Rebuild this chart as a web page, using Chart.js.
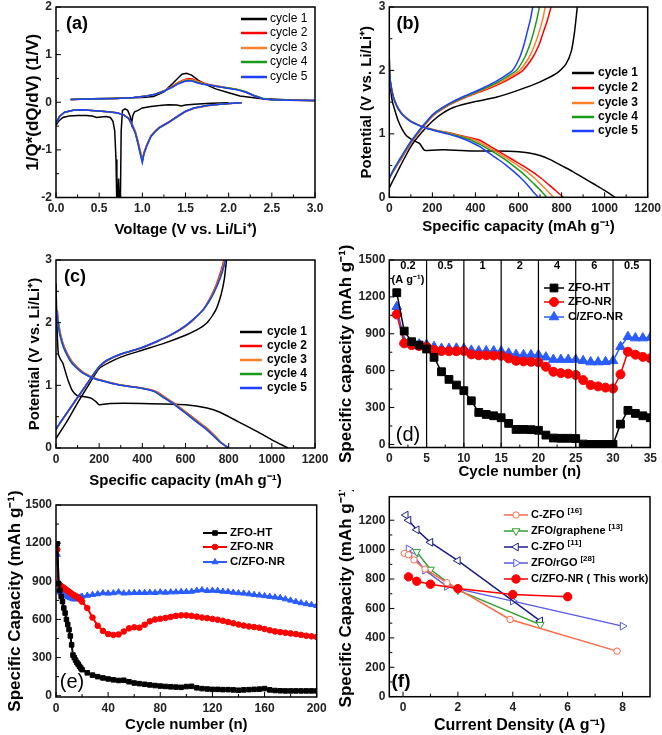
<!DOCTYPE html>
<html>
<head>
<meta charset="utf-8">
<script src="https://cdn.jsdelivr.net/npm/chart.js@4.4.0/dist/chart.umd.min.js"></script>
<style>
body { margin: 0; background: #fff; }
#wrap { position: relative; width: 662px; height: 735px; }
canvas { position: absolute; }
</style>
</head>
<body>
<div id="wrap">
<canvas id="ca" width="331" height="245" style="left:0;top:0"></canvas>
<canvas id="cb" width="331" height="245" style="left:331px;top:0"></canvas>
<canvas id="cc" width="331" height="245" style="left:0;top:245px"></canvas>
<canvas id="cd" width="331" height="245" style="left:331px;top:245px"></canvas>
<canvas id="ce" width="331" height="245" style="left:0;top:490px"></canvas>
<canvas id="cf" width="331" height="245" style="left:331px;top:490px"></canvas>
</div>
<script>
const FONT = "'Liberation Sans', Arial, Helvetica, sans-serif";
const COL5 = ['#000000', '#ff0000', '#ff7f2a', '#1a9a1a', '#1f3fff'];
const CYC = ['cycle 1', 'cycle 2', 'cycle 3', 'cycle 4', 'cycle 5'];

// (a) dQ/dV
const aXTicks = [0, 0.5, 1, 1.5, 2, 2.5, 3];
const aYTicks = [-2, -1, 0, 1, 2];
const aC1DisV = [0.0, 0.03, 0.08, 0.15, 0.25, 0.35, 0.42, 0.47, 0.52, 0.58, 0.63, 0.66, 0.68, 0.695, 0.705, 0.715, 0.725, 0.735, 0.745, 0.755, 0.77, 0.8, 0.83, 0.86, 0.875, 0.89, 0.91, 0.95, 1.0, 1.1, 1.2, 1.3, 1.4, 1.45, 1.5, 1.6, 1.8, 2.0];
const aC1DisY = [-0.48, -0.4, -0.32, -0.29, -0.28, -0.28, -0.29, -0.32, -0.31, -0.3, -0.32, -0.4, -0.6, -1.2, -2.2, -2.2, -1.6, -2.2, -2.2, -0.6, -0.17, -0.14, -0.17, -0.3, -0.45, -0.28, -0.2, -0.17, -0.12, -0.09, -0.07, -0.05, -0.06, -0.08, -0.06, -0.04, -0.02, -0.01];
const aC1ChgV = [0.17, 0.5, 0.8, 1.0, 1.13, 1.25, 1.36, 1.42, 1.46, 1.51, 1.57, 1.65, 1.75, 1.85, 1.98, 2.13, 2.36, 2.67, 3.0];
const aC1ChgY = [0.06, 0.08, 0.09, 0.1, 0.12, 0.22, 0.41, 0.52, 0.59, 0.61, 0.57, 0.46, 0.36, 0.28, 0.21, 0.13, 0.08, 0.05, 0.03];
const aDisV = [0.0, 0.04, 0.1, 0.2, 0.3, 0.45, 0.6, 0.7, 0.78, 0.84, 0.88, 0.92, 0.95, 0.98, 1.0, 1.02, 1.05, 1.1, 1.15, 1.2, 1.3, 1.4, 1.5, 1.6, 1.75, 1.9, 2.05, 2.15];
const aC2DisY = [-0.44, -0.3, -0.21, -0.17, -0.16, -0.18, -0.2, -0.22, -0.26, -0.33, -0.45, -0.62, -0.82, -1.05, -1.2, -1.05, -0.9, -0.7, -0.6, -0.52, -0.42, -0.3, -0.19, -0.12, -0.07, -0.04, -0.02, -0.01];
const aC3DisY = [-0.44, -0.3, -0.21, -0.17, -0.16, -0.18, -0.2, -0.22, -0.26, -0.34, -0.46, -0.64, -0.85, -1.08, -1.22, -1.06, -0.92, -0.72, -0.62, -0.54, -0.44, -0.32, -0.2, -0.13, -0.08, -0.04, -0.02, -0.01];
const aC4DisY = [-0.45, -0.3, -0.21, -0.17, -0.16, -0.18, -0.2, -0.22, -0.26, -0.34, -0.47, -0.65, -0.86, -1.1, -1.24, -1.07, -0.92, -0.71, -0.61, -0.53, -0.43, -0.31, -0.19, -0.12, -0.07, -0.04, -0.02, -0.01];
const aC5DisY = [-0.45, -0.3, -0.21, -0.17, -0.16, -0.18, -0.2, -0.22, -0.26, -0.34, -0.48, -0.66, -0.88, -1.12, -1.27, -1.08, -0.93, -0.72, -0.62, -0.53, -0.43, -0.3, -0.19, -0.12, -0.07, -0.04, -0.02, -0.01];
const aChgV = [0.17, 0.4, 0.7, 0.9, 1.05, 1.15, 1.25, 1.35, 1.42, 1.48, 1.53, 1.58, 1.63, 1.7, 1.8, 1.9, 2.0, 2.1, 2.2, 2.3, 2.4, 2.5, 2.7, 3.0];
const aC2ChgY = [0.06, 0.07, 0.08, 0.1, 0.13, 0.17, 0.24, 0.34, 0.42, 0.47, 0.5, 0.49, 0.45, 0.41, 0.36, 0.33, 0.3, 0.27, 0.21, 0.13, 0.07, 0.05, 0.04, 0.035];
const aC3ChgY = [0.06, 0.07, 0.08, 0.1, 0.13, 0.17, 0.24, 0.33, 0.41, 0.46, 0.48, 0.47, 0.44, 0.4, 0.35, 0.32, 0.3, 0.27, 0.22, 0.14, 0.08, 0.05, 0.04, 0.035];
const aC4ChgY = [0.06, 0.07, 0.08, 0.1, 0.13, 0.17, 0.23, 0.32, 0.4, 0.44, 0.46, 0.45, 0.42, 0.39, 0.35, 0.32, 0.3, 0.27, 0.22, 0.14, 0.08, 0.05, 0.04, 0.035];
const aC5ChgY = [0.06, 0.07, 0.08, 0.1, 0.13, 0.17, 0.23, 0.32, 0.39, 0.43, 0.45, 0.44, 0.41, 0.38, 0.35, 0.32, 0.29, 0.26, 0.21, 0.13, 0.07, 0.05, 0.04, 0.035];

// (b) charge/discharge profiles, ZFO-NR
const bXTicks = [0, 200, 400, 600, 800, 1000, 1200];
const bYTicks = [0, 1, 2, 3];
const bC1DisQ = [0, 3, 8, 15, 25, 40, 60, 80, 110, 140, 165, 250, 400, 500, 600, 650, 700, 750, 800, 850, 900, 950, 1000, 1048];
const bC1DisV = [2.2, 1.9, 1.65, 1.5, 1.38, 1.22, 1.07, 0.97, 0.9, 0.85, 0.74, 0.75, 0.73, 0.73, 0.72, 0.7, 0.66, 0.59, 0.5, 0.41, 0.31, 0.21, 0.11, 0.0];
const bC1ChgQ = [0, 30, 60, 100, 150, 200, 250, 300, 400, 500, 600, 700, 780, 820, 845, 860, 873];
const bC1ChgV = [0.15, 0.35, 0.55, 0.8, 1.02, 1.2, 1.33, 1.42, 1.51, 1.58, 1.69, 1.82, 1.96, 2.1, 2.3, 2.6, 3.0];
const bDisV = [2.0, 1.8, 1.6, 1.5, 1.4, 1.3, 1.2, 1.15, 1.1, 1.05, 1.0, 0.95, 0.9, 0.8, 0.7, 0.6, 0.5, 0.4, 0.3, 0.2, 0.1, 0.0];
const bC2DisQ = [0, 6, 18, 28, 42, 64, 100, 130, 168, 225, 300, 360, 420, 470, 520, 570, 620, 665, 705, 740, 775, 808];
const bC3DisQ = [0, 6, 18, 28, 42, 64, 100, 130, 166, 222, 292, 348, 400, 455, 505, 552, 598, 640, 675, 705, 735, 762];
const bC4DisQ = [0, 6, 17, 27, 41, 62, 98, 128, 164, 218, 285, 335, 380, 440, 490, 535, 575, 612, 645, 675, 705, 731];
const bC5DisQ = [0, 6, 17, 27, 40, 61, 96, 126, 160, 212, 270, 320, 360, 420, 462, 505, 545, 580, 612, 640, 665, 692];
const bChgV = [0.3, 0.4, 0.5, 0.6, 0.7, 0.8, 0.9, 1.0, 1.1, 1.2, 1.3, 1.4, 1.5, 1.6, 1.7, 1.8, 1.9, 2.0, 2.2, 2.4, 2.6, 2.8, 3.0];
const bC2ChgQ = [0, 17, 35, 54, 72, 90, 110, 132, 155, 180, 207, 250, 305, 372, 450, 520, 575, 620, 665, 695, 715, 735, 751];
const bC3ChgQ = [0, 16, 34, 52, 70, 88, 108, 130, 153, 178, 204, 246, 300, 366, 440, 508, 560, 605, 648, 675, 695, 712, 724];
const bC4ChgQ = [0, 15, 32, 50, 68, 86, 106, 128, 151, 176, 202, 243, 296, 360, 430, 495, 545, 590, 628, 652, 670, 685, 697];
const bC5ChgQ = [0, 14, 30, 48, 66, 84, 104, 126, 149, 174, 200, 240, 290, 352, 420, 480, 530, 572, 605, 625, 640, 655, 666];

// (c) charge/discharge profiles, C/ZFO-NR
const cC1DisQ = [0, 5, 11, 20, 31, 45, 57, 75, 100, 130, 160, 185, 200, 250, 400, 600, 700, 760, 800, 850, 900, 950, 1000, 1040, 1075];
const cC1DisV = [2.63, 1.9, 1.5, 1.42, 1.36, 1.2, 1.07, 0.92, 0.83, 0.82, 0.8, 0.74, 0.69, 0.71, 0.71, 0.69, 0.64, 0.57, 0.5, 0.41, 0.32, 0.23, 0.13, 0.06, 0.0];
const cC1ChgQ = [0, 50, 100, 150, 200, 250, 300, 400, 500, 600, 650, 700, 740, 765, 780, 790];
const cC1ChgV = [0.15, 0.42, 0.72, 1.0, 1.27, 1.37, 1.45, 1.56, 1.67, 1.8, 1.88, 2.0, 2.2, 2.45, 2.7, 3.0];
const cDisV = [2.2, 2.0, 1.8, 1.6, 1.4, 1.3, 1.2, 1.1, 1.05, 1.0, 0.95, 0.9, 0.8, 0.7, 0.6, 0.5, 0.4, 0.3, 0.2, 0.1, 0.0];
const cC2DisQ = [6, 12, 22, 40, 70, 95, 130, 190, 245, 310, 410, 465, 510, 553, 592, 630, 667, 705, 735, 762, 800];
const cC3DisQ = [5, 11, 21, 38, 68, 93, 127, 187, 242, 306, 406, 461, 506, 550, 589, 626, 664, 701, 732, 760, 799];
const cC4DisQ = [4, 10, 20, 37, 66, 91, 125, 185, 240, 303, 403, 458, 503, 547, 586, 623, 660, 698, 729, 759, 798];
const cC5DisQ = [3, 9, 18, 35, 64, 88, 122, 182, 237, 300, 400, 455, 500, 545, 583, 620, 657, 695, 727, 758, 797];
const cChgV = [0.3, 0.4, 0.5, 0.6, 0.7, 0.8, 0.9, 1.0, 1.1, 1.2, 1.3, 1.4, 1.5, 1.6, 1.7, 1.8, 1.9, 2.0, 2.2, 2.4, 2.6, 2.8, 3.0];
const cC2ChgQ = [0, 20, 40, 60, 80, 100, 120, 140, 160, 180, 203, 240, 305, 400, 470, 533, 583, 622, 680, 715, 742, 762, 778];
const cC3ChgQ = [0, 19, 39, 59, 79, 99, 119, 139, 159, 179, 202, 238, 303, 398, 468, 531, 581, 620, 681, 717, 745, 766, 781];
const cC4ChgQ = [0, 19, 39, 59, 79, 99, 119, 139, 159, 179, 201, 237, 302, 397, 467, 530, 580, 619, 681, 718, 747, 768, 784];
const cC5ChgQ = [0, 18, 38, 58, 78, 98, 118, 138, 158, 178, 200, 235, 300, 395, 465, 528, 578, 618, 680, 720, 748, 770, 786];

// (d) rate capability
const dXTicks = [0, 5, 10, 15, 20, 25, 30, 35];
const dYTicks = [0, 300, 600, 900, 1200, 1500];
const dCycles = [1, 2, 3, 4, 5, 6, 7, 8, 9, 10, 11, 12, 13, 14, 15, 16, 17, 18, 19, 20, 21, 22, 23, 24, 25, 26, 27, 28, 29, 30, 31, 32, 33, 34, 35];
const dHT = [1234, 922, 835, 808, 776, 708, 591, 529, 483, 437, 355, 260, 244, 233, 217, 171, 122, 122, 120, 115, 76, 52, 50, 50, 48, 3, 0, 0, 0, 0, 165, 277, 252, 233, 217];
const dNR = [1058, 822, 808, 800, 795, 768, 760, 758, 758, 760, 732, 725, 725, 723, 722, 700, 680, 675, 672, 668, 632, 591, 580, 575, 565, 523, 483, 472, 462, 455, 570, 754, 730, 712, 700];
const dCNR = [1120, 835, 820, 815, 812, 795, 780, 780, 782, 780, 765, 760, 760, 760, 758, 742, 730, 728, 728, 728, 710, 690, 690, 690, 690, 680, 670, 670, 672, 680, 795, 876, 865, 865, 870];
const dRateEdges = [0, 5, 10, 15, 20, 25, 30, 35];
const dRateLabels = ['0.2', '0.5', '1', '2', '4', '6', '0.5'];

// (e) long cycling
const eXTicks = [0, 40, 80, 120, 160, 200];
const eYTicks = [0, 300, 600, 900, 1200, 1500];
const eCycles = [1, 2, 3, 4, 5, 6, 7, 8, 9, 10, 11, 12, 13, 14, 15, 16, 17, 18, 19, 20, 24, 28, 32, 36, 40, 44, 48, 52, 56, 60, 64, 68, 72, 76, 80, 84, 88, 92, 96, 100, 104, 108, 112, 116, 120, 124, 128, 132, 136, 140, 144, 148, 152, 156, 160, 164, 168, 172, 176, 180, 184, 188, 192, 196, 200];
const eHT = [1195, 880, 830, 780, 740, 690, 650, 600, 560, 520, 470, 400, 320, 300, 280, 262, 248, 232, 218, 205, 180, 162, 150, 140, 132, 125, 120, 122, 110, 100, 95, 90, 85, 80, 76, 73, 70, 68, 66, 72, 74, 62, 56, 53, 50, 50, 48, 48, 46, 43, 46, 48, 50, 52, 56, 46, 41, 39, 38, 38, 38, 38, 38, 38, 38];
const eNR = [1150, 880, 870, 862, 855, 848, 840, 832, 825, 818, 810, 802, 795, 790, 785, 778, 770, 762, 752, 740, 690, 615, 550, 510, 485, 478, 482, 505, 530, 538, 535, 558, 585, 600, 605, 612, 620, 628, 632, 632, 628, 622, 615, 610, 604, 598, 590, 580, 570, 560, 552, 545, 540, 535, 525, 515, 506, 500, 495, 490, 485, 478, 472, 467, 462];
const eCNR = [1110, 830, 815, 808, 800, 798, 792, 786, 780, 775, 770, 766, 762, 760, 760, 762, 766, 770, 775, 780, 788, 795, 800, 808, 805, 808, 815, 806, 808, 810, 810, 810, 812, 810, 815, 812, 815, 815, 818, 818, 820, 828, 832, 825, 828, 826, 820, 818, 812, 808, 805, 800, 795, 790, 785, 780, 775, 770, 760, 750, 740, 730, 722, 715, 708];

// (f) comparison with literature
const fXTicks = [0, 2, 4, 6, 8];
const fYTicks = [0, 200, 400, 600, 800, 1000, 1200];
const fX16 = [0.05, 0.2, 0.4, 0.8, 1.6, 3.9, 7.8];
const fY16 = [975, 965, 930, 868, 775, 525, 310];
const fXgr = [0.5, 1, 2, 5];
const fYgr = [985, 865, 725, 490];
const fX11 = [0.1, 0.2, 0.5, 1, 2, 5];
const fY11 = [1235, 1200, 1135, 1050, 925, 515];
const fX28 = [0.2, 0.4, 0.8, 1.6, 4, 8];
const fY28 = [1005, 955, 860, 750, 650, 480];
const fXnr = [0.2, 0.5, 1, 2, 4, 6];
const fYnr = [815, 785, 765, 735, 695, 680];
const fNames = ['C-ZFO', 'ZFO/graphene', 'C-ZFO', 'ZFO/rGO', 'C/ZFO-NR ( This work)'];
const fRefs = ['[16]', '[13]', '[11]', '[28]', ''];

function pts(xs, ys) { return xs.map((x, i) => ({x: x, y: ys[i]})); }
function branches(a, b) { return a.concat([{x: null, y: null}], b); }
function mids(t) { const m = []; for (let i = 0; i + 1 < t.length; i++) m.push((t[i] + t[i + 1]) / 2); return m; }

function cycleSets(list, w) {
  return list.map((d, i) => ({
    label: CYC[i], data: d, borderColor: COL5[i], borderWidth: w,
    pointRadius: 0, showLine: true, order: 5 - i
  }));
}

function axis(a, dir, size) {
  return {
    type: 'linear', min: a.min, max: a.max,
    grid: { display: false, drawTicks: false },
    border: { display: false },
    ticks: {
      font: { family: FONT, size: 12, weight: 'bold' }, color: '#222',
      padding: dir === 'x' ? 4 : 4, autoSkip: false, maxRotation: 0,
      callback: a.fmt || (v => v)
    },
    afterBuildTicks: s => { s.ticks = a.ticks.map(v => ({ value: v })); },
    afterFit: s => {
      if (dir === 'x') s.height = size; else s.width = size;
      s.paddingTop = 0; s.paddingBottom = 0; s.paddingLeft = 0; s.paddingRight = 0;
    },
    title: {
      display: true, text: a.title, color: '#000',
      font: { family: FONT, size: a.tsize, weight: 'bold' },
      padding: dir === 'x' ? { top: 0, bottom: a.tpad } : { top: a.tpad, bottom: 0 }
    }
  };
}

function panel(id, o) {
  const cv = document.getElementById(id);
  const deco = {
    id: 'deco',
    afterDraw(chart) {
      const ctx = chart.ctx, a = chart.chartArea, sx = chart.scales.x, sy = chart.scales.y;
      ctx.save();
      ctx.strokeStyle = '#000';
      ctx.lineWidth = 1;
      ctx.beginPath();
      o.x.ticks.forEach(v => { const p = sx.getPixelForValue(v); ctx.moveTo(p, a.bottom); ctx.lineTo(p, a.bottom - 5); });
      mids(o.x.ticks).forEach(v => { const p = sx.getPixelForValue(v); ctx.moveTo(p, a.bottom); ctx.lineTo(p, a.bottom - 3); });
      o.y.ticks.forEach(v => { const p = sy.getPixelForValue(v); ctx.moveTo(a.left, p); ctx.lineTo(a.left + 5, p); });
      mids(o.y.ticks).forEach(v => { const p = sy.getPixelForValue(v); ctx.moveTo(a.left, p); ctx.lineTo(a.left + 3, p); });
      ctx.stroke();
      ctx.lineWidth = 1.5;
      ctx.strokeRect(a.left, a.top, a.right - a.left, a.bottom - a.top);
      if (o.extra) o.extra(ctx, a, sx, sy);

      // panel letter
      ctx.fillStyle = '#000';
      ctx.font = o.tag.font;
      ctx.textAlign = 'center';
      ctx.textBaseline = 'middle';
      ctx.fillText(o.tag.text, o.tag.x, o.tag.y);

      // legend
      const lg = o.legend;
      chart.data.datasets.forEach((ds, i) => {
        const y = lg.ys[i];
        ctx.strokeStyle = ds.borderColor;
        ctx.lineWidth = lg.lw;
        ctx.beginPath(); ctx.moveTo(lg.x0, y); ctx.lineTo(lg.x1, y); ctx.stroke();
        if (ds.pointRadius > 0) {
          ctx.fillStyle = ds.pointBackgroundColor;
          ctx.lineWidth = ds.pointBorderWidth || 1;
          Chart.helpers.drawPoint(ctx, { pointStyle: ds.pointStyle, rotation: ds.pointRotation || 0,
            radius: ds.pointRadius, borderWidth: ctx.lineWidth }, (lg.x0 + lg.x1) / 2, y);
        }
        ctx.fillStyle = '#000';
        ctx.font = lg.font;
        ctx.textAlign = 'left';
        ctx.textBaseline = 'middle';
        ctx.fillText(ds.label, lg.tx, y);
        if (ds.ref) {
          const w = ctx.measureText(ds.label).width;
          ctx.font = lg.supFont;
          ctx.fillText(ds.ref, lg.tx + w + 3, y - 4);
        }
      });
      ctx.restore();
    }
  };
  new Chart(cv, {
    type: 'scatter',
    data: { datasets: o.datasets },
    options: {
      responsive: false, animation: false, events: [],
      layout: { autoPadding: false, padding: { top: o.box[1], right: cv.width - o.box[2], left: 0, bottom: 0 } },
      plugins: { legend: { display: false }, tooltip: { enabled: false } },
      elements: { line: { tension: o.tension || 0 } },
      scales: {
        x: axis(o.x, 'x', cv.height - o.box[3]),
        y: axis(o.y, 'y', o.box[0])
      }
    },
    plugins: [deco]
  });
}

// (a)
panel('ca', {
  box: [56, 7, 315, 197.5],
  x: { min: 0, max: 3, ticks: aXTicks, fmt: v => v.toFixed(1), title: 'Voltage (V vs. Li/Li\u207A)', tsize: 15, tpad: 6 },
  y: { min: -2, max: 2, ticks: aYTicks, title: '1/Q*(dQ/dV) (1/V)', tsize: 17, tpad: 23 },
  datasets: cycleSets([
    branches(pts(aC1DisV, aC1DisY), pts(aC1ChgV, aC1ChgY)),
    branches(pts(aDisV, aC2DisY), pts(aChgV, aC2ChgY)),
    branches(pts(aDisV, aC3DisY), pts(aChgV, aC3ChgY)),
    branches(pts(aDisV, aC4DisY), pts(aChgV, aC4ChgY)),
    branches(pts(aDisV, aC5DisY), pts(aChgV, aC5ChgY))
  ], 1.5),
  tag: { text: '(a)', font: 'bold 18px ' + FONT, x: 77, y: 24 },
  legend: { x0: 241, x1: 267, tx: 270, ys: [19, 33, 48, 62, 77], lw: 2.5, font: '12px ' + FONT }
});

// (b)
panel('cb', {
  box: [58.3, 7, 316.7, 197.3],
  tension: 0.2,
  x: { min: 0, max: 1200, ticks: bXTicks, title: 'Specific capacity (mAh g\u207B\u00B9)', tsize: 15, tpad: 9 },
  y: { min: 0, max: 3, ticks: bYTicks, title: 'Potential (V vs. Li/Li\u207A)', tsize: 15, tpad: 27 },
  datasets: cycleSets([
    branches(pts(bC1DisQ, bC1DisV), pts(bC1ChgQ, bC1ChgV)),
    branches(pts(bC2DisQ, bDisV), pts(bC2ChgQ, bChgV)),
    branches(pts(bC3DisQ, bDisV), pts(bC3ChgQ, bChgV)),
    branches(pts(bC4DisQ, bDisV), pts(bC4ChgQ, bChgV)),
    branches(pts(bC5DisQ, bDisV), pts(bC5ChgQ, bChgV))
  ], 1.5),
  tag: { text: '(b)', font: 'bold 18px ' + FONT, x: 77, y: 24 },
  legend: { x0: 241, x1: 263, tx: 267, ys: [73, 88, 103, 117, 131], lw: 2.5, font: 'bold 12px ' + FONT }
});

// (c)
panel('cc', {
  box: [56, 15, 315, 203],
  tension: 0.2,
  x: { min: 0, max: 1200, ticks: bXTicks, title: 'Specific capacity (mAh g\u207B\u00B9)', tsize: 15, tpad: 0 },
  y: { min: 0, max: 3, ticks: bYTicks, title: 'Potential (V vs. Li/Li\u207A)', tsize: 15, tpad: 26 },
  datasets: cycleSets([
    branches(pts(cC1DisQ, cC1DisV), pts(cC1ChgQ, cC1ChgV)),
    branches(pts(cC2DisQ, cDisV), pts(cC2ChgQ, cChgV)),
    branches(pts(cC3DisQ, cDisV), pts(cC3ChgQ, cChgV)),
    branches(pts(cC4DisQ, cDisV), pts(cC4ChgQ, cChgV)),
    branches(pts(cC5DisQ, cDisV), pts(cC5ChgQ, cChgV))
  ], 1.5),
  tag: { text: '(c)', font: 'bold 18px ' + FONT, x: 75, y: 32 },
  legend: { x0: 240, x1: 262, tx: 267, ys: [87, 101, 115, 129, 143], lw: 2.5, font: 'bold 12px ' + FONT }
});

function markerSet(label, xs, ys, color, style, r, rot, lw) {
  return {
    label: label, data: pts(xs, ys), showLine: true,
    borderColor: color, borderWidth: lw,
    pointStyle: style, pointRadius: r, pointRotation: rot,
    pointBackgroundColor: color, pointBorderColor: color, pointBorderWidth: 1
  };
}

// (d)
panel('cd', {
  box: [58.3, 15, 319.3, 202.5],
  x: { min: 0, max: 35, ticks: dXTicks, title: 'Cycle number (n)', tsize: 15, tpad: 9 },
  y: { min: -25, max: 1500, ticks: dYTicks, title: 'Specific capacity (mAh g\u207B\u00B9)', tsize: 17, tpad: 5 },
  datasets: [
    markerSet('ZFO-HT', dCycles, dHT, '#000000', 'rect', 5.5, 0, 1.5),
    markerSet('ZFO-NR', dCycles, dNR, '#ff0000', 'circle', 4.5, 0, 1.5),
    markerSet('C/ZFO-NR', dCycles, dCNR, '#2a5cff', 'triangle', 5.5, 0, 1.5)
  ],
  extra: (ctx, a, sx, sy) => {
    ctx.strokeStyle = '#000';
    ctx.lineWidth = 1.2;
    ctx.beginPath();
    dRateEdges.slice(1, -1).forEach(v => { const p = sx.getPixelForValue(v); ctx.moveTo(p, a.top); ctx.lineTo(p, a.bottom); });
    ctx.stroke();
    ctx.fillStyle = '#000';
    ctx.font = 'bold 11px ' + FONT;
    ctx.textAlign = 'center';
    ctx.textBaseline = 'middle';
    dRateLabels.forEach((t, i) => {
      const p = sx.getPixelForValue((dRateEdges[i] + dRateEdges[i + 1]) / 2);
      ctx.fillText(t, p, a.top + 6);
    });
    ctx.fillText('(A g\u207B\u00B9)', sx.getPixelForValue((dRateEdges[0] + dRateEdges[1]) / 2), a.top + 20);
  },
  tag: { text: '(d)', font: '20px ' + FONT, x: 77, y: 190 },
  legend: { x0: 213, x1: 233, tx: 237, ys: [43, 57, 72], lw: 1.5, font: 'bold 11.5px ' + FONT }
});

// (e)
panel('ce', {
  box: [56, 15, 316.7, 207],
  x: { min: 0, max: 200, ticks: eXTicks, title: 'Cycle number (n)', tsize: 15, tpad: 1 },
  y: { min: -10, max: 1500, ticks: eYTicks, title: 'Specific Capacity (mAh g\u207B\u00B9)', tsize: 17, tpad: 5 },
  datasets: [
    markerSet('ZFO-HT', eCycles, eHT, '#000000', 'rect', 3.2, 0, 2),
    markerSet('ZFO-NR', eCycles, eNR, '#ff0000', 'circle', 2.8, 0, 2),
    markerSet('C/ZFO-NR', eCycles, eCNR, '#2a5cff', 'triangle', 3.5, 0, 2)
  ],
  tag: { text: '(e)', font: '20px ' + FONT, x: 72, y: 192 },
  legend: { x0: 203, x1: 227, tx: 230, ys: [43, 57, 72], lw: 2, font: 'bold 11.5px ' + FONT }
});

// (f)
function openSet(i, xs, ys, color, style, r, rot) {
  return {
    label: fNames[i], ref: fRefs[i], data: pts(xs, ys), showLine: true,
    borderColor: color, borderWidth: 1.5, order: 1 + i,
    pointStyle: style, pointRadius: r, pointRotation: rot,
    pointBackgroundColor: '#ffffff', pointBorderColor: color, pointBorderWidth: 1
  };
}
panel('cf', {
  box: [58.3, 6.7, 319, 206.7],
  x: { min: -0.5, max: 9, ticks: fXTicks, title: 'Current Density (A g\u207B\u00B9)', tsize: 16, tpad: 0 },
  y: { min: 0, max: 1360, ticks: fYTicks, title: 'Specific Capacity (mAh g\u207B\u00B9)', tsize: 17, tpad: 5 },
  datasets: [
    openSet(0, fX16, fY16, '#ff6a4a', 'circle', 3.2, 0),
    openSet(1, fXgr, fYgr, '#2ca02c', 'triangle', 4.5, 180),
    openSet(2, fX11, fY11, '#1c1c8c', 'triangle', 4.5, 270),
    openSet(3, fX28, fY28, '#5a5ae6', 'triangle', 4.5, 90),
    { label: fNames[4], ref: fRefs[4], data: pts(fXnr, fYnr), showLine: true, order: 0,
      borderColor: '#ff0000', borderWidth: 1.5, pointStyle: 'circle', pointRadius: 4.2,
      pointBackgroundColor: '#ff0000', pointBorderColor: '#ff0000', pointBorderWidth: 1 }
  ],
  tag: { text: '(f)', font: 'bold 19px ' + FONT, x: 70, y: 192 },
  legend: { x0: 173, x1: 197, tx: 200, ys: [25, 41, 57, 73, 89], lw: 1.5, font: 'bold 11px ' + FONT, supFont: 'bold 8px ' + FONT }
});
</script>
</body>
</html>
